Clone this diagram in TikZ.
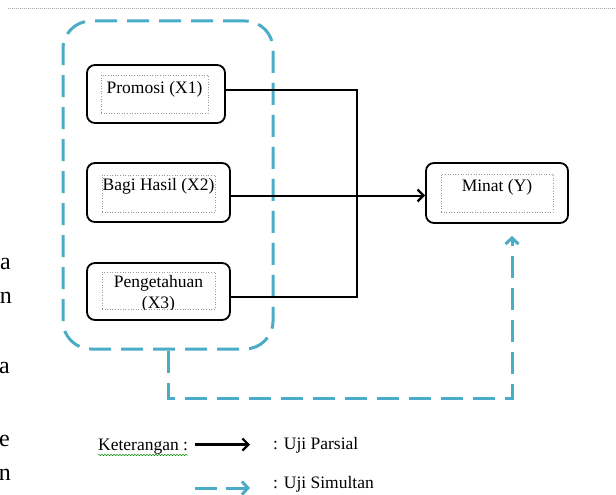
\documentclass[tikz,border=0pt]{standalone}
\usepackage{fontspec}
\setmainfont{Liberation Serif}
\usetikzlibrary{arrows.meta,decorations.pathmorphing}
\definecolor{aqua}{RGB}{75,172,198}
\begin{document}
\begin{tikzpicture}[x=1pt,y=-1pt,
  varbox/.style={draw=black, line width=1.8pt, rounded corners=8pt, inner sep=0pt},
  inbox/.style={draw=gray!80, dotted, line width=0.6pt, inner sep=0pt},
  lbl/.style={font=\fontsize{17.5}{21}\selectfont, inner sep=0pt, anchor=base},
  lgd/.style={font=\fontsize{17.5}{21}\selectfont, inner sep=0pt, anchor=base west},
  frag/.style={font=\fontsize{24}{28}\selectfont, inner sep=0pt, anchor=base east},
  parsial/.style={draw=black, line width=2pt},
  simul/.style={draw=aqua, line width=3pt, dash pattern=on 22pt off 10pt},
  grpbox/.style={draw=aqua, line width=3pt, dash pattern=on 22pt off 10pt, rounded corners=28pt, inner sep=0pt},
  barb/.style={-{Straight Barb[length=6pt,width=12pt,line width=2.2pt]}}
]
\useasboundingbox (0,0) rectangle (616,495);

% top dotted rule
\coordinate (r1) at (8,8);
\coordinate (r2) at (616,8);
\draw[gray!70, line width=0.6pt, dash pattern=on 1pt off 1pt] (r1) -- (r2);

% clipped body-text fragments at left edge
\begin{scope}
\clip (0,0) rectangle (616,495);
\node[frag] (f1) at (11,269) {a};
\node[frag] (f2) at (12,303) {n};
\node[frag] (f3) at (10,373) {a};
\node[frag] (f4) at (10,446) {e};
\node[frag] (f5) at (11,480) {n};
\end{scope}

% dashed group
\node[grpbox, minimum width=210pt, minimum height=328pt] (grp) at (168,185) {};

% variable boxes
\node[varbox, minimum width=138pt, minimum height=58pt] (b1) at (156,94) {};
\node[inbox, minimum width=107pt, minimum height=38pt] (i1) at (154.5,94) {};
\node[lbl] (t1) at (154.5,93) {Promosi (X1)};

\node[varbox, minimum width=143pt, minimum height=59pt] (b2) at (158.5,192.5) {};
\node[inbox, minimum width=113pt, minimum height=37pt] (i2) at (158.5,193.5) {};
\node[lbl] (t2) at (158.5,190) {Bagi Hasil (X2)};

\node[varbox, minimum width=143pt, minimum height=57pt] (b3) at (158.5,291.5) {};
\node[inbox, minimum width=113pt, minimum height=37pt] (i3) at (158.5,290.5) {};
\begin{scope}
\clip (i3.south west) rectangle (i3.north east);
\node[lbl] (t3a) at (158.5,287) {Pengetahuan};
\node[lbl] (t3b) at (158.5,308) {(X3)};
\end{scope}

\node[varbox, minimum width=142pt, minimum height=60pt] (m) at (497,193) {};
\node[inbox, minimum width=112pt, minimum height=38pt] (im) at (497,193) {};
\node[lbl] (tm) at (497,191) {Minat (Y)};

% partial connectors
\coordinate (jt) at (357,90);
\coordinate (jb) at (357,297);
\draw[parsial] ([yshift=4pt]b1.east) -- (jt) -- (jb) -- ([yshift=-5.5pt]b3.east);
\draw[barb, parsial, line width=2pt] ([yshift=-3pt]b2.east) -- ([yshift=-3pt]b2.east -| m.west);

% simultaneous connector
\coordinate (sc) at (168,398);
\coordinate (sd) at (512,398);
\coordinate (st) at (512,236);
\draw[simul, -{Straight Barb[length=6pt,width=13pt,line width=3pt]}] (grp.south) -- (sc) -- (sd) -- (st);

% legend
\node[lgd] (k) at (98,450) {Keterangan :};
\coordinate (u1) at (98,455);
\coordinate (u2) at (188,455);
\draw[green!55!black, line width=0.5pt, decorate, decoration={snake, segment length=3pt, amplitude=0.7pt}] (u1) -- (u2);
\coordinate (la1) at (195,444.5);
\coordinate (la2) at (250,444.5);
\draw[barb, parsial, line width=2.6pt] (la1) -- (la2);
\node[lgd] (lp) at (273,449) {: Uji Parsial};

\coordinate (lb1) at (195,488);
\coordinate (lb2) at (250,488);
\draw[aqua, line width=3pt, dash pattern=on 22pt off 9pt, -{Straight Barb[length=6pt,width=13pt,line width=3pt]}] (lb1) -- (lb2);
\node[lgd] (ls) at (273,488) {: Uji Simultan};
\end{tikzpicture}
\end{document}
